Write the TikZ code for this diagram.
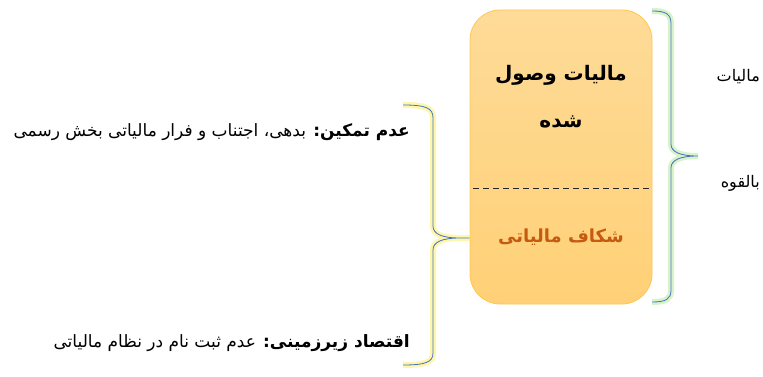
\documentclass[tikz,border=0pt]{standalone}
\usepackage{fontspec}
\newfontfamily\arabicfont[Script=Arabic]{DejaVu Sans}
\TeXXeTstate=1
\usetikzlibrary{positioning}
\definecolor{boxtop}{RGB}{254,219,152}
\definecolor{boxbottom}{RGB}{255,208,118}
\definecolor{boxline}{RGB}{255,200,74}
\definecolor{gapbrown}{RGB}{197,90,17}
\definecolor{bracelue}{RGB}{68,114,196}
\definecolor{glowgreen}{RGB}{190,235,165}
\definecolor{glowyellow}{RGB}{255,240,120}
\tikzset{
  brace/.style={draw=bracelue, line width=0.8pt},
  greenglow/.style={preaction={draw=glowgreen, line width=6pt, opacity=0.6}},
  yellowglow/.style={preaction={draw=glowyellow, line width=6pt, opacity=0.6}},
  label/.style={font=\arabicfont\fontsize{17}{20}\selectfont, inner sep=0pt},
  sidelabel/.style={font=\arabicfont\fontsize{16}{19}\selectfont, inner sep=0pt},
  title/.style={font=\arabicfont\bfseries\fontsize{20}{24}\selectfont, inner sep=0pt}
}

\begin{document}
\begin{tikzpicture}[x=1pt, y=-1pt]
    \useasboundingbox (0,0) rectangle (763,377);
    \node[draw=boxline, line width=0.8pt, rounded corners=30pt, top color=boxtop, bottom color=boxbottom,
          minimum width=182pt, minimum height=294pt] (box) at (561,157) {};
    \coordinate (cutL) at (473,188);
    \coordinate (cutR) at (649,188);
    \draw[dash pattern=on 6pt off 4pt, line width=1pt, black!85] (cutL) -- (cutR);
    \node[title] (paid) at (561,75) {\beginR مالیات وصول\endR};
    \node[title] (paid2) at (561,122) {\beginR شده\endR};
    \node[title, text=gapbrown, font=\arabicfont\bfseries\fontsize{18}{22}\selectfont] (gap) at (561,237) {\beginR شکاف مالیاتی\endR};

    \node[sidelabel, anchor=east] (pot1) at (760,77) {\beginR مالیات\endR};
    \node[sidelabel, anchor=east] (pot2) at (760,183) {\beginR بالقوه\endR};

    \node[label, anchor=east] (evade) at (410,132) {\beginR\textbf{عدم تمکین:} بدهی، اجتناب و فرار مالیاتی بخش رسمی\endR};
    \node[label, anchor=east] (shadow) at (410,343) {\beginR\textbf{اقتصاد زیرزمینی:} عدم ثبت نام در نظام مالیاتی\endR};

    \coordinate (rtop) at (652,11);
    \coordinate (rtip) at (698,156);
    \coordinate (rbot) at (652,302);
    \draw[brace, greenglow] (rtop) .. controls (666,11) and (671,14) .. (671,24) -- (671,144)
        .. controls (671,152) and (680,156) .. (rtip) .. controls (680,156) and (671,160) .. (671,168)
        -- (671,290) .. controls (671,299) and (666,302) .. (rbot);

    \coordinate (ltop) at (403,105);
    \coordinate (ltip) at (box.west |- 0,238);
    \coordinate (lbot) at (403,365);
    \draw[brace, yellowglow] (ltop) .. controls (426,105) and (433,108) .. (433,118) -- (433,226)
        .. controls (433,234) and (442,238) .. (460,238) -- (ltip) (460,238) .. controls (442,238) and (433,242) .. (433,250)
        -- (433,353) .. controls (433,362) and (426,365) .. (lbot);
\end{tikzpicture}
\end{document}
